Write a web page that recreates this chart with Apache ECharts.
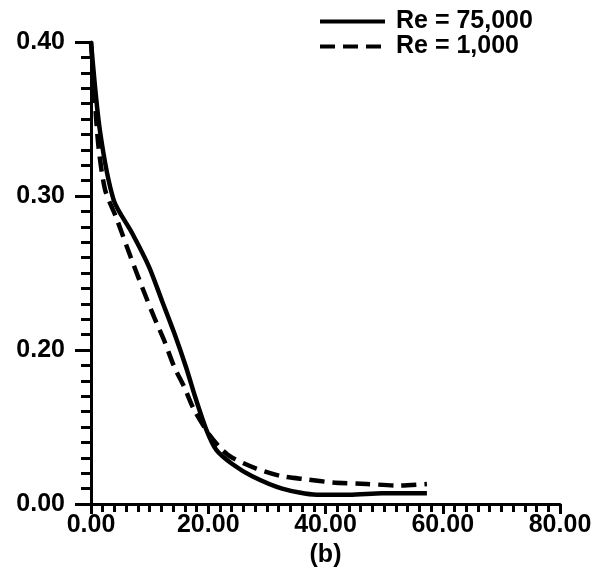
<!DOCTYPE html>
<html>
<head>
<meta charset="utf-8">
<script src="https://cdn.jsdelivr.net/npm/echarts@6/dist/echarts.min.js"></script>
<style>
  html, body { margin: 0; padding: 0; background: #fff; }
  #chart { width: 612px; height: 575px; }
</style>
</head>
<body>
<div id="chart"></div>
<script>
// values (y axis drawn 0.10..0.40, bottom tick printed as 0.00 like the original)
const seriesNames = ['Re = 75,000', 'Re = 1,000']
const re75000 = [
  [0, 0.400], [1.5, 0.343], [3.9, 0.297], [7.0, 0.276], [9.9, 0.254],
  [12.1, 0.232], [14.2, 0.211], [16.2, 0.189], [17.9, 0.168], [19.7, 0.148],
  [21.4, 0.135], [24.1, 0.126], [27.5, 0.118], [32.6, 0.110], [38.5, 0.106],
  [44.1, 0.106], [49.7, 0.107], [57.3, 0.107]
]
const re1000 = [
  [0, 0.400], [1.2, 0.335], [2.4, 0.304], [4.3, 0.286], [6.8, 0.260],
  [8.7, 0.241], [10.8, 0.221], [12.5, 0.206], [14.2, 0.189], [15.9, 0.176],
  [17.6, 0.161], [20.2, 0.145], [22.4, 0.135], [24.1, 0.130], [28.2, 0.123],
  [32.6, 0.118], [36.8, 0.116], [41.2, 0.114], [47.0, 0.113], [52.6, 0.112],
  [57.3, 0.113]
]
const xTickLabels = ['0.00', '20.00', '40.00', '60.00', '80.00']
const yTickLabels = ['0.00', '0.20', '0.30', '0.40']
const xName = '(b)'

const font = "'Liberation Sans', Arial, sans-serif"
let myChart = echarts.init(document.getElementById('chart'))
let option = {
  animation: false,
  textStyle: { fontFamily: font },
  grid: { left: 91, right: 52, top: 42, bottom: 71 },
  legend: {
    data: seriesNames,
    orient: 'vertical',
    left: 318,
    top: 9,
    padding: 0,
    itemWidth: 65,
    itemHeight: 14,
    itemGap: 0,
    itemStyle: { opacity: 0 },
    lineStyle: { width: 4 },
    textStyle: { fontSize: 25, fontWeight: 'bold', color: '#000', fontFamily: font, padding: [0, 0, 0, 6] }
  },
  xAxis: {
    type: 'value',
    min: 0,
    max: 80,
    interval: 20,
    name: xName,
    nameLocation: 'middle',
    nameGap: 34,
    nameTextStyle: { fontSize: 25, fontWeight: 'bold', color: '#000', fontFamily: font },
    axisLine: { show: true, lineStyle: { color: '#000', width: 3 } },
    axisTick: { show: true, length: 10, lineStyle: { color: '#000', width: 3 } },
    minorTick: { show: true, splitNumber: 10, length: 8, lineStyle: { color: '#000', width: 3 } },
    splitLine: { show: false },
    axisLabel: {
      margin: 9,
      fontSize: 25,
      fontWeight: 'bold',
      color: '#000',
      fontFamily: font,
      formatter: (v, i) => xTickLabels[i]
    }
  },
  yAxis: {
    type: 'value',
    min: 0.1,
    max: 0.4,
    interval: 0.1,
    axisLine: { show: true, lineStyle: { color: '#000', width: 3 } },
    axisTick: { show: true, length: 16, lineStyle: { color: '#000', width: 3 } },
    minorTick: { show: true, splitNumber: 10, length: 10, lineStyle: { color: '#000', width: 3 } },
    splitLine: { show: false },
    axisLabel: {
      margin: 26,
      fontSize: 25,
      fontWeight: 'bold',
      color: '#000',
      fontFamily: font,
      formatter: (v, i) => yTickLabels[i]
    }
  },
  series: [
    {
      name: seriesNames[0],
      type: 'line',
      data: re75000,
      smooth: 0.25,
      symbol: 'none',
      lineStyle: { color: '#000', width: 4.5 },
      itemStyle: { color: '#000' }
    },
    {
      name: seriesNames[1],
      type: 'line',
      data: re1000,
      smooth: 0.25,
      symbol: 'none',
      lineStyle: { color: '#000', width: 4.5, type: [15, 8] },
      itemStyle: { color: '#000' }
    }
  ]
}
myChart.setOption(option)
</script>
</body>
</html>
